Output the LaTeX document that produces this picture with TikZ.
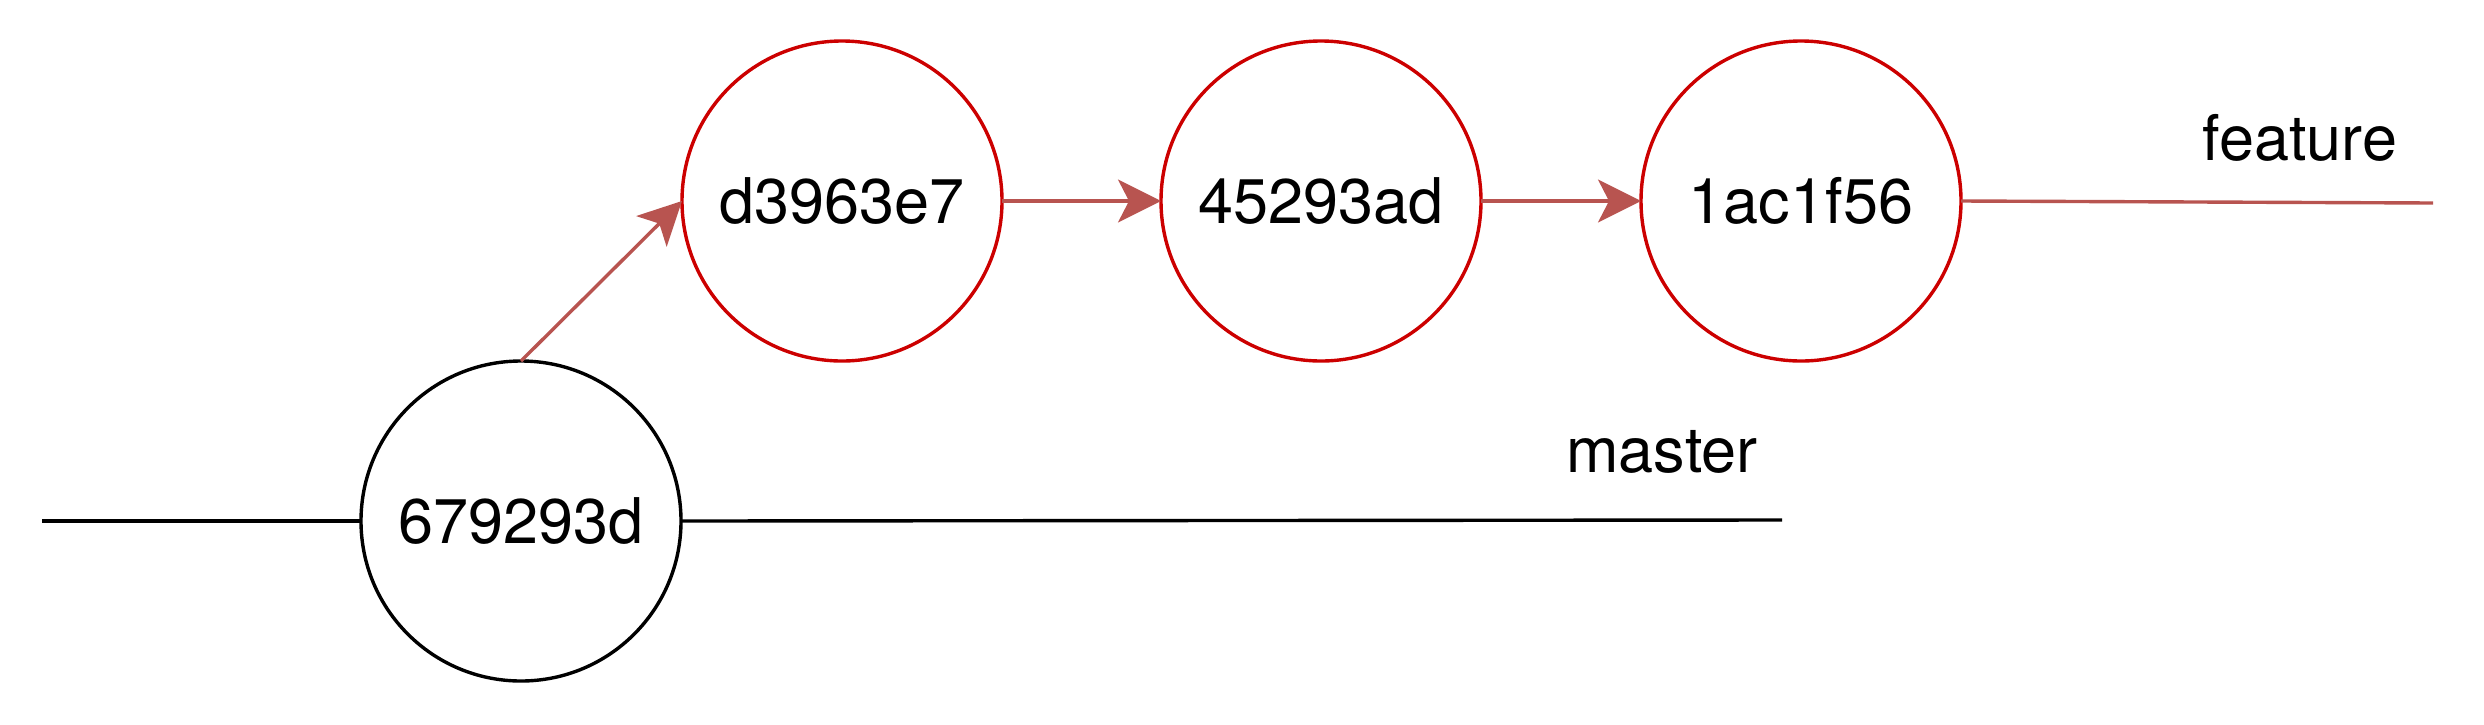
\documentclass[tikz,border=0pt]{standalone}
\usepackage{fontspec}
\setmainfont{TeX Gyre Heros}
\usetikzlibrary{arrows.meta}
\definecolor{commitred}{HTML}{CC0000}
\definecolor{branchred}{HTML}{B85450}
\begin{document}
\begin{tikzpicture}[x=0.5pt,y=-0.5pt,
  commit/.style={circle, draw=commitred, line width=1.7pt, minimum size=160pt,
    inner sep=0pt, outer sep=0pt, font=\fontsize{31.5}{38}\selectfont},
  basecommit/.style={commit, draw=black},
  flow/.style={draw=branchred, line width=1.7pt,
    -{Stealth[length=21.5pt,width=21.5pt,inset=5.5pt]}},
  branchline/.style={line width=1.7pt},
  label/.style={anchor=base, inner sep=0pt, font=\fontsize{31.5}{38}\selectfont}]
\useasboundingbox (0,0) rectangle (2484,724);
\node[basecommit] (A) at (521,521) {679293d};
\node[commit] (B) at (842,201) {d3963e7};
\node[commit] (C) at (1321,201) {45293ad};
\node[commit] (D) at (1801,201) {1ac1f56};
\coordinate (mL) at (42,521);
\coordinate (mR) at (1782,520);
\coordinate (fR) at (2433,203);
\draw[branchline, black] (mL) -- (A.west);
\draw[branchline, black] (A.east) -- (mR);
\draw[branchline, draw=branchred] (D.east) -- (fR);
\draw[flow] (A.north) -- (B.west);
\draw[flow] (B.east) -- (C.west);
\draw[flow] (C.east) -- (D.west);
\node[label] (master) at (1662,472) {master};
\node[label] (feature) at (2300,160) {feature};
\end{tikzpicture}
\end{document}
